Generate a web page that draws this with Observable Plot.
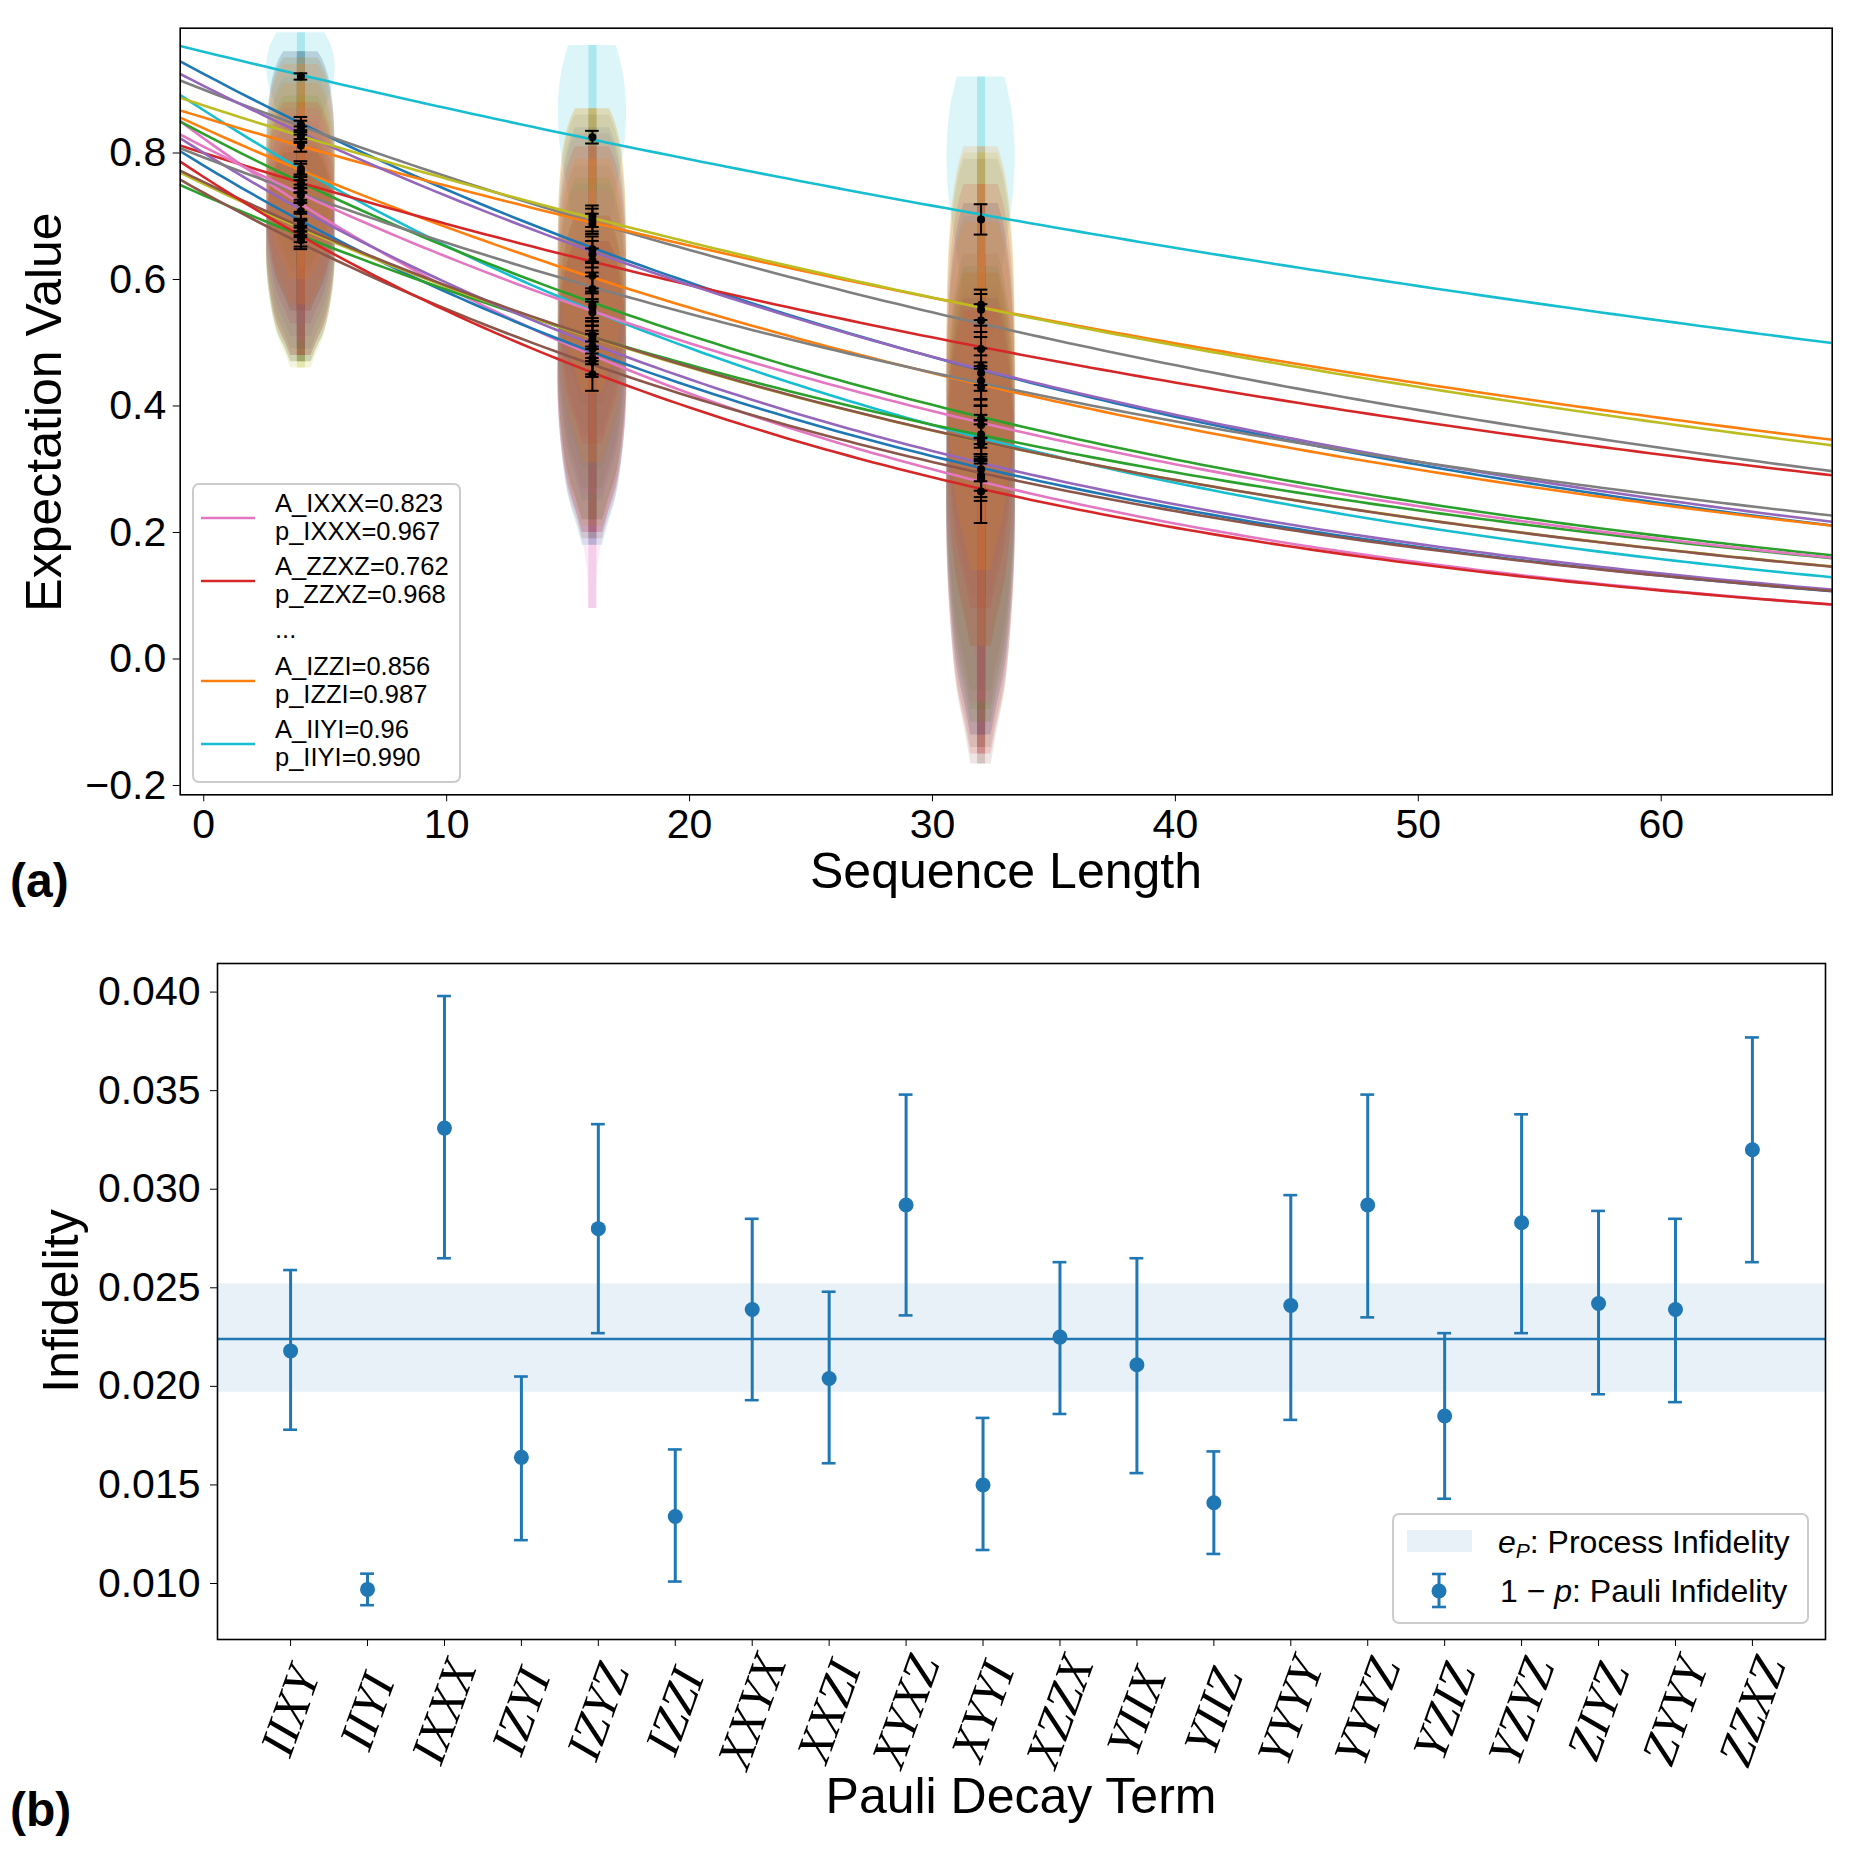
<!DOCTYPE html>
<html>
<head>
<meta charset="utf-8">
<script src="https://cdn.jsdelivr.net/npm/d3@7"></script>
<script src="https://cdn.jsdelivr.net/npm/@observablehq/plot@0.6"></script>
<style>
  html, body { margin: 0; padding: 0; background: #fff; }
  #root { position: relative; width: 1860px; height: 1859px; background: #fff; overflow: hidden; }
  #root svg { position: absolute; left: 0; }
</style>
</head>
<body>
<div id="root"></div>
<script>
// ---------------- data ----------------
const pauliTerms = ["IIXY","IIYI","IXXX","IZYI","IZYZ","IZZI","XXYX","XXZI","XYXZ","XYYI","XZZX","YIIX","YIIZ","YYYY","YYYZ","YZIZ","YZYZ","ZIYZ","ZYYY","ZZXZ"];

// (a) fitted decays A * p^m and their colours
const lineColors = ["#1f77b4","#17becf","#e377c2","#7f7f7f","#17becf","#ff7f0e","#2ca02c","#ff7f0e","#1f77b4","#d62728","#2ca02c","#9467bd","#bcbd22","#bcbd22","#9467bd","#7f7f7f","#8c564b","#8c564b","#e377c2","#d62728"];
const fitA = [0.925,0.960,0.823,0.900,0.8675,0.856,0.830,0.839,0.780,0.800,0.733,0.906,0.875,0.751,0.800,0.793,0.737,0.754,0.810,0.762];
const fitP = [0.9782,0.9903,0.9669,0.9836,0.9720,0.9866,0.9761,0.9796,0.9708,0.9850,0.9775,0.9789,0.9859,0.9759,0.9708,0.9815,0.9717,0.9758,0.9761,0.9680];

const seqLengths = [4, 16, 32];
// mean expectation values and error bars at each sequence length
const mean4  = [0.845,0.921,0.722,0.840,0.770,0.812,0.750,0.775,0.690,0.755,0.672,0.830,0.826,0.683,0.708,0.738,0.662,0.680,0.733,0.667];
const mean16 = [0.648,0.825,0.476,0.694,0.556,0.688,0.560,0.606,0.490,0.630,0.505,0.640,0.700,0.512,0.495,0.585,0.470,0.512,0.548,0.450];
const mean32 = [0.452,0.695,0.285,0.535,0.345,0.560,0.380,0.430,0.300,0.490,0.355,0.462,0.552,0.340,0.315,0.440,0.290,0.347,0.370,0.265];
const err4  = [0.012,0.005,0.015,0.011,0.013,0.010,0.012,0.012,0.014,0.011,0.013,0.012,0.010,0.013,0.014,0.012,0.014,0.013,0.012,0.015];
const err16 = [0.020,0.010,0.026,0.018,0.022,0.016,0.021,0.020,0.024,0.019,0.022,0.021,0.017,0.022,0.024,0.020,0.024,0.022,0.021,0.026];
const err32 = [0.028,0.024,0.035,0.026,0.032,0.024,0.030,0.029,0.034,0.027,0.031,0.029,0.025,0.031,0.034,0.029,0.034,0.031,0.030,0.050];

// violin extents (min / max of the samples) at each length
const lo4  = [0.62,0.72,0.50,0.62,0.56,0.60,0.55,0.56,0.49,0.55,0.47,0.61,0.62,0.46,0.51,0.53,0.47,0.48,0.53,0.48];
const hi4  = [0.96,0.99,0.86,0.96,0.92,0.94,0.89,0.91,0.84,0.88,0.80,0.95,0.95,0.82,0.85,0.87,0.80,0.82,0.87,0.81];
const lo16 = [0.36,0.45,0.08,0.40,0.25,0.42,0.27,0.31,0.18,0.34,0.22,0.35,0.42,0.21,0.20,0.30,0.19,0.22,0.26,0.20];
const hi16 = [0.84,0.97,0.70,0.86,0.75,0.87,0.76,0.79,0.69,0.81,0.70,0.83,0.87,0.70,0.70,0.78,0.66,0.70,0.74,0.66];
const lo32 = [0.02,0.30,-0.065,0.10,-0.10,0.14,-0.05,0.02,-0.12,0.08,-0.08,0.02,0.14,-0.10,-0.12,0.02,-0.14,-0.166,-0.07,-0.15];
const hi32 = [0.72,0.92,0.56,0.79,0.62,0.81,0.64,0.69,0.58,0.75,0.62,0.72,0.80,0.61,0.59,0.70,0.57,0.61,0.64,0.55];
// violin outline profiles: fraction along [min,max] and relative half width
const profileIds = [0,1,2,0,0,0,0,0,0,0,0,0,0,0,0,0,0,0,0,0];
const profileFrac = [
  [0, 0.06, 0.15, 0.3, 0.45, 0.6, 0.75, 0.88, 0.96, 1],
  [0, 0.15, 0.35, 0.55, 0.7, 0.82, 0.92, 1],
  [0, 0.1, 0.22, 0.35, 0.5, 0.65, 0.8, 0.92, 1]
];
const profileWidth = [
  [0.3, 0.45, 0.7, 0.9, 1.0, 1.0, 0.95, 0.82, 0.65, 0.5],
  [0.12, 0.2, 0.4, 0.7, 0.95, 1.0, 0.9, 0.7],
  [0.12, 0.15, 0.4, 0.8, 1.0, 1.0, 0.9, 0.7, 0.5]
];
// drawing order of the violin bodies (last ones sit on top)
const violinOrder = [1,0,3,4,8,11,14,6,10,13,12,18,2,9,19,15,17,5,7,16];

// legend of (a)
const legendNames = ["IXXX", "ZZXZ", "IZZI", "IIYI"];
const legendA = ["0.823", "0.762", "0.856", "0.96"];
const legendP = ["0.967", "0.968", "0.987", "0.990"];
const legendColors = ["#e377c2", "#d62728", "#ff7f0e", "#17becf"];

// (b) Pauli infidelities 1 - p
const infidelity = [0.0218,0.0097,0.0331,0.0164,0.0280,0.0134,0.0239,0.0204,0.0292,0.0150,0.0225,0.0211,0.0141,0.0241,0.0292,0.0185,0.0283,0.0242,0.0239,0.0320];
const infLow     = [0.0178,0.0089,0.0265,0.0122,0.0227,0.0101,0.0193,0.0161,0.0236,0.0117,0.0186,0.0156,0.0115,0.0183,0.0235,0.0143,0.0227,0.0196,0.0192,0.0263];
const infHigh    = [0.0259,0.0105,0.0398,0.0205,0.0333,0.0168,0.0285,0.0248,0.0348,0.0184,0.0263,0.0265,0.0167,0.0297,0.0348,0.0227,0.0338,0.0289,0.0285,0.0377];
const processInf = 0.0224, processLow = 0.0197, processHigh = 0.0252;

const xTicksA = [0, 10, 20, 30, 40, 50, 60];
const yTicksA = [-0.2, 0, 0.2, 0.4, 0.6, 0.8];
const yTicksB = [0.010, 0.015, 0.020, 0.025, 0.030, 0.035, 0.040];

// ---------------- build tables ----------------
const FONT = "'Liberation Sans', Arial, Helvetica, sans-serif";
const means = [mean4, mean16, mean32], errs = [err4, err16, err32];
const los = [lo4, lo16, lo32], his = [hi4, hi16, hi32];
const VW = 1.4; // violin max half width (sequence-length units)

const violinRows = [];
const stripRows = [];
const barRows = [];
violinOrder.forEach(i => {
  const t = pauliTerms[i];
  seqLengths.forEach((L, j) => {
    const lo = los[j][i], hi = his[j][i];
    const pf = profileFrac[profileIds[i]], pw = profileWidth[profileIds[i]];
    pf.forEach((f, k) => {
      violinRows.push({key: t + L, y: lo + f * (hi - lo), x1: L - pw[k] * VW, x2: L + pw[k] * VW, color: lineColors[i]});
    });
    stripRows.push({L, lo, hi, color: lineColors[i]});
    barRows.push({L, m: means[j][i], e: errs[j][i]});
  });
});

const xMinA = -0.97, xMaxA = 67.04;
const xs = d3.range(xMinA, xMaxA, 0.5).concat([xMaxA]);
const lineRows = [];
pauliTerms.forEach((t, i) => {
  xs.forEach(x => lineRows.push({t, x, y: fitA[i] * Math.pow(fitP[i], x), color: lineColors[i]}));
});

// ---------------- panel (a) ----------------
const chartA = Plot.plot({
  width: 1860, height: 910,
  marginLeft: 179.7, marginRight: 28.3, marginTop: 27.7, marginBottom: 115.7,
  style: {fontFamily: FONT, fontSize: "41px", color: "black", background: "transparent"},
  x: {domain: [xMinA, xMaxA]},
  y: {domain: [-0.2147, 0.9973]},
  color: {type: "identity"},
  marks: [
    Plot.areaX(violinRows, {y: "y", x1: "x1", x2: "x2", z: "key", fill: "color", fillOpacity: 0.15, curve: "catmull-rom"}),
    Plot.ruleX(stripRows, {x: "L", y1: "lo", y2: "hi", stroke: "color", strokeWidth: 8, strokeOpacity: 0.25}),
    Plot.line(lineRows, {x: "x", y: "y", z: "t", stroke: "color", strokeWidth: 2.6, clip: true}),
    Plot.ruleX(barRows, {x: "L", y1: d => d.m - d.e, y2: d => d.m + d.e, stroke: "black", strokeWidth: 2}),
    Plot.ruleY(barRows, {y: d => d.m - d.e, x1: d => d.L - 0.28, x2: d => d.L + 0.28, stroke: "black", strokeWidth: 2}),
    Plot.ruleY(barRows, {y: d => d.m + d.e, x1: d => d.L - 0.28, x2: d => d.L + 0.28, stroke: "black", strokeWidth: 2}),
    Plot.dot(barRows, {x: "L", y: "m", r: 4, fill: "black"}),
    Plot.frame({stroke: "black", strokeWidth: 1.6}),
    Plot.axisX({ticks: xTicksA, tickFormat: d3.format("d"), tickSize: 7, tickPadding: 7, fontSize: 41, label: null}),
    Plot.axisY({ticks: yTicksA, tickFormat: d3.format(".1f"), tickSize: 7, tickPadding: 7, fontSize: 41, label: null})
  ]
});
chartA.style.top = "0px";

// ---------------- panel (b) ----------------
const bRows = pauliTerms.map((t, i) => ({i, t, v: infidelity[i], lo: infLow[i], hi: infHigh[i]}));
const chartB = Plot.plot({
  width: 1860, height: 929,
  marginLeft: 217, marginRight: 35, marginTop: 33, marginBottom: 220,
  style: {fontFamily: FONT, fontSize: "41px", color: "black", background: "transparent"},
  x: {domain: [-0.95, 19.95]},
  y: {domain: [0.00716, 0.04145]},
  marks: [
    Plot.rect([{y1: processLow, y2: processHigh}], {y1: "y1", y2: "y2", fill: "#1f77b4", fillOpacity: 0.1}),
    Plot.ruleY([processInf], {stroke: "#1f77b4", strokeWidth: 2.6}),
    Plot.ruleX(bRows, {x: "i", y1: "lo", y2: "hi", stroke: "#1f77b4", strokeWidth: 3}),
    Plot.ruleY(bRows, {y: "lo", x1: d => d.i - 0.09, x2: d => d.i + 0.09, stroke: "#1f77b4", strokeWidth: 2.6}),
    Plot.ruleY(bRows, {y: "hi", x1: d => d.i - 0.09, x2: d => d.i + 0.09, stroke: "#1f77b4", strokeWidth: 2.6}),
    Plot.dot(bRows, {x: "i", y: "v", r: 7.5, fill: "#1f77b4"}),
    Plot.frame({stroke: "black", strokeWidth: 1.6}),
    Plot.axisX({ticks: d3.range(pauliTerms.length), tickFormat: () => "", tickSize: 7, label: null}),
    Plot.axisY({ticks: yTicksB, tickFormat: d3.format(".3f"), tickSize: 7, tickPadding: 10, fontSize: 41, label: null}),
    Plot.text(bRows, {x: "i", text: "t", frameAnchor: "bottom", dy: 72, rotate: -70, textAnchor: "middle", lineAnchor: "middle",
      fontSize: 49, fontStyle: "italic", fontFamily: "'Liberation Serif', 'DejaVu Serif', serif", fill: "black"})
  ]
});
chartB.style.top = "930px";

const root = document.getElementById("root");
root.appendChild(chartA);
root.appendChild(chartB);

// ---------------- titles, panel labels and legends ----------------
const NS = "http://www.w3.org/2000/svg";
const over = document.createElementNS(NS, "svg");
over.setAttribute("width", 1860);
over.setAttribute("height", 1859);
over.style.top = "0px";
over.style.fontFamily = FONT;
root.appendChild(over);
function el(tag, attrs, text) {
  const e = document.createElementNS(NS, tag);
  for (const k in attrs) e.setAttribute(k, attrs[k]);
  if (text != null) e.textContent = text;
  over.appendChild(e);
  return e;
}
function tspan(parent, attrs, text) {
  const e = document.createElementNS(NS, "tspan");
  for (const k in attrs) e.setAttribute(k, attrs[k]);
  e.textContent = text;
  parent.appendChild(e);
  return e;
}
el("text", {x: 10, y: 897, "font-size": 48, "font-weight": "bold"}, "(a)");
el("text", {x: 10, y: 1826, "font-size": 48, "font-weight": "bold"}, "(b)");
el("text", {x: 1006, y: 888, "font-size": 50, "text-anchor": "middle"}, "Sequence Length");
el("text", {x: 1021, y: 1813, "font-size": 50, "text-anchor": "middle"}, "Pauli Decay Term");
el("text", {x: 0, y: 0, "font-size": 50, "text-anchor": "middle", transform: "translate(61,412) rotate(-90)"}, "Expectation Value");
el("text", {x: 0, y: 0, "font-size": 50, "text-anchor": "middle", transform: "translate(78,1301) rotate(-90)"}, "Infidelity");

// legend (a)
el("rect", {x: 193, y: 484, width: 267, height: 298, rx: 6, fill: "white", "fill-opacity": 0.8, stroke: "#cccccc", "stroke-width": 2});
const legBase = [[512, 540], [575, 603], [675, 703], [738, 766]];
legendNames.forEach((n, k) => {
  const [b1, b2] = legBase[k];
  const ly = (b1 + b2) / 2 - 8;
  el("line", {x1: 201, x2: 255, y1: ly, y2: ly, stroke: legendColors[k], "stroke-width": 2.6});
  el("text", {x: 275, y: b1, "font-size": 25.5}, "A_" + n + "=" + legendA[k]);
  el("text", {x: 275, y: b2, "font-size": 25.5}, "p_" + n + "=" + legendP[k]);
});
el("text", {x: 275, y: 638, "font-size": 25.5}, "...");

// legend (b)
el("rect", {x: 1393, y: 1514, width: 415, height: 109, rx: 6, fill: "white", "fill-opacity": 0.8, stroke: "#cccccc", "stroke-width": 2});
el("rect", {x: 1407, y: 1530, width: 65, height: 22, fill: "#1f77b4", "fill-opacity": 0.1});
const t1 = el("text", {x: 1498, y: 1553, "font-size": 32});
tspan(t1, {"font-style": "italic"}, "e");
tspan(t1, {"font-style": "italic", "font-size": 21, dy: 5}, "P");
tspan(t1, {dy: -5}, ": Process Infidelity");
el("line", {x1: 1439, x2: 1439, y1: 1574, y2: 1607, stroke: "#1f77b4", "stroke-width": 3});
el("line", {x1: 1432, x2: 1446, y1: 1574, y2: 1574, stroke: "#1f77b4", "stroke-width": 2.6});
el("line", {x1: 1432, x2: 1446, y1: 1607, y2: 1607, stroke: "#1f77b4", "stroke-width": 2.6});
el("circle", {cx: 1439, cy: 1591, r: 7.5, fill: "#1f77b4"});
const t2 = el("text", {x: 1500, y: 1602, "font-size": 32});
tspan(t2, {}, "1 \u2212 ");
tspan(t2, {"font-style": "italic"}, "p");
tspan(t2, {}, ": Pauli Infidelity");
</script>
</body>
</html>
